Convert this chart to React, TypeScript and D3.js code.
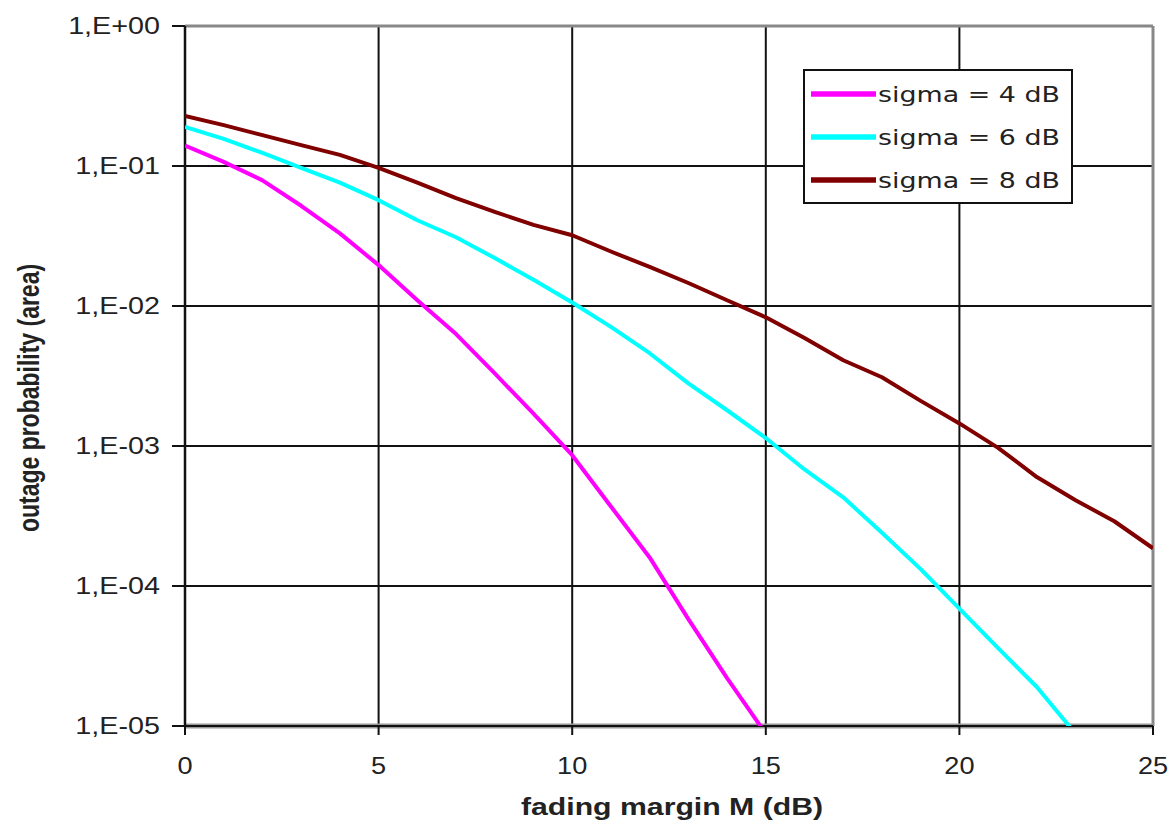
import React from 'react';
import * as d3 from 'd3';

// fading margin M (dB), one point per dB
const margins = d3.range(0, 26);

// outage probability per sigma
const sigma4 = [
  0.14, 0.107, 0.079, 0.052, 0.033, 0.0196, 0.011, 0.0063, 0.0033, 0.0017,
  0.00086, 0.00037, 0.00016, 0.000058, 0.000022, 0.0000088,
];
const sigma6 = [
  0.19, 0.156, 0.124, 0.097, 0.076, 0.057, 0.041, 0.031, 0.022, 0.0154,
  0.0106, 0.0071, 0.0046, 0.0028, 0.0018, 0.00114, 0.00068, 0.00043, 0.00024,
  0.000132, 0.000069, 0.000036, 0.000019, 0.0000088,
];
const sigma8 = [
  0.228, 0.196, 0.166, 0.141, 0.12, 0.097, 0.076, 0.059, 0.047, 0.038,
  0.032, 0.0245, 0.019, 0.0146, 0.011, 0.0083, 0.0059, 0.0041, 0.0031, 0.0021,
  0.00145, 0.00097, 0.0006, 0.00041, 0.00029, 0.000186,
];

const seriesNames = ['sigma = 4 dB', 'sigma = 6 dB', 'sigma = 8 dB'];
const seriesColors = ['#ff00ff', '#00ffff', '#800000'];

const xTicks = [0, 5, 10, 15, 20, 25];
const yTicks = [1, 1e-1, 1e-2, 1e-3, 1e-4, 1e-5];
const yTickLabels = ['1,E+00', '1,E-01', '1,E-02', '1,E-03', '1,E-04', '1,E-05'];

const W = 1175;
const H = 828;
const margin = { top: 26, right: 22, bottom: 102, left: 185 };

const arial = "'Liberation Sans', Arial, sans-serif";
const verdana = "'DejaVu Sans', Verdana, sans-serif";

// the source picture is stretched sideways, so text gets a horizontal scale
function SText({ x, y, sx = 1.25, anchor = 'start', size, weight = 'normal', family = arial, children }: any) {
  return (
    <text
      transform={`translate(${x},${y}) scale(${sx},1)`}
      textAnchor={anchor}
      fontFamily={family}
      fontSize={size}
      fontWeight={weight}
      fill="#222"
    >
      {children}
    </text>
  );
}

export default function App() {
  const x = d3.scaleLinear().domain([0, 25]).range([margin.left, W - margin.right]);
  const y = d3.scaleLog().domain([1e-5, 1]).range([H - margin.bottom, margin.top]);

  const [x0, x1] = x.range();
  const [y0, y1] = y.range(); // y0 bottom, y1 top

  const line = d3
    .line<number>()
    .x((_, i) => x(margins[i]))
    .y((d) => y(d));

  const all = [sigma4, sigma6, sigma8];

  // legend box
  const lg = { x: 804, y: 70, w: 268, h: 133 };

  return (
    <svg width={W} height={H} style={{ display: 'block', position: 'absolute', left: 0, top: 0 }}>
      <rect width={W} height={H} fill="#fff" />
      <defs>
        <clipPath id="plot">
          <rect x={x0} y={y1} width={x1 - x0} height={y0 - y1} />
        </clipPath>
      </defs>

      {/* grid */}
      {xTicks.slice(1, -1).map((t) => (
        <line key={'gx' + t} x1={x(t)} x2={x(t)} y1={y1} y2={y0} stroke="#111" strokeWidth={2} />
      ))}
      {yTicks.slice(1, -1).map((t) => (
        <line key={'gy' + t} x1={x0} x2={x1} y1={y(t)} y2={y(t)} stroke="#111" strokeWidth={2} />
      ))}

      {/* frame */}
      <line x1={x0} x2={x1} y1={y1} y2={y1} stroke="#888" strokeWidth={3} />
      <line x1={x1} x2={x1} y1={y1} y2={y0} stroke="#888" strokeWidth={3} />
      <line x1={x0} x2={x1} y1={y0} y2={y0} stroke="#999" strokeWidth={5} />
      <line x1={x0} x2={x1} y1={y0} y2={y0} stroke="#111" strokeWidth={2} />
      <line x1={x0} x2={x0} y1={y1} y2={y0} stroke="#111" strokeWidth={2.5} />

      {/* curves */}
      <g clipPath="url(#plot)">
        {all.map((s, i) => (
          <path
            key={seriesNames[i]}
            d={line(s) || ''}
            fill="none"
            stroke={seriesColors[i]}
            strokeWidth={4}
            strokeLinejoin="round"
          />
        ))}
      </g>

      {/* y axis ticks */}
      {yTicks.map((t, i) => (
        <g key={'ty' + t}>
          <line x1={x0 - 13} x2={x0} y1={y(t)} y2={y(t)} stroke="#111" strokeWidth={2} />
          <SText x={x0 - 25} y={y(t) + 8} anchor="end" size={23}>
            {yTickLabels[i]}
          </SText>
        </g>
      ))}

      {/* x axis ticks */}
      {xTicks.map((t) => (
        <g key={'tx' + t}>
          <line x1={x(t)} x2={x(t)} y1={y0} y2={y0 + 9} stroke="#111" strokeWidth={2} />
          <SText x={x(t)} y={774} anchor="middle" size={23} sx={1.18}>
            {t}
          </SText>
        </g>
      ))}

      {/* axis titles */}
      <SText x={(x0 + x1) / 2 + 3} y={815} anchor="middle" size={24} weight="bold" sx={1.26}>
        fading margin M (dB)
      </SText>
      <text
        transform={`translate(39,398) scale(1.25,1) rotate(-90)`}
        textAnchor="middle"
        fontFamily={arial}
        fontWeight="bold"
        fontSize={23}
        fill="#222"
      >
        outage probability (area)
      </text>

      {/* legend */}
      <rect x={lg.x} y={lg.y} width={lg.w} height={lg.h} fill="#fff" stroke="#111" strokeWidth={2} />
      {seriesNames.map((name, i) => {
        const ly = lg.y + 24 + i * 43;
        return (
          <g key={'lg' + name}>
            <line x1={lg.x + 7} x2={lg.x + 72} y1={ly} y2={ly} stroke={seriesColors[i]} strokeWidth={5.5} />
            <SText x={lg.x + 74} y={ly + 7.5} size={21} family={verdana} sx={1.28}>
              {name}
            </SText>
          </g>
        );
      })}
    </svg>
  );
}
